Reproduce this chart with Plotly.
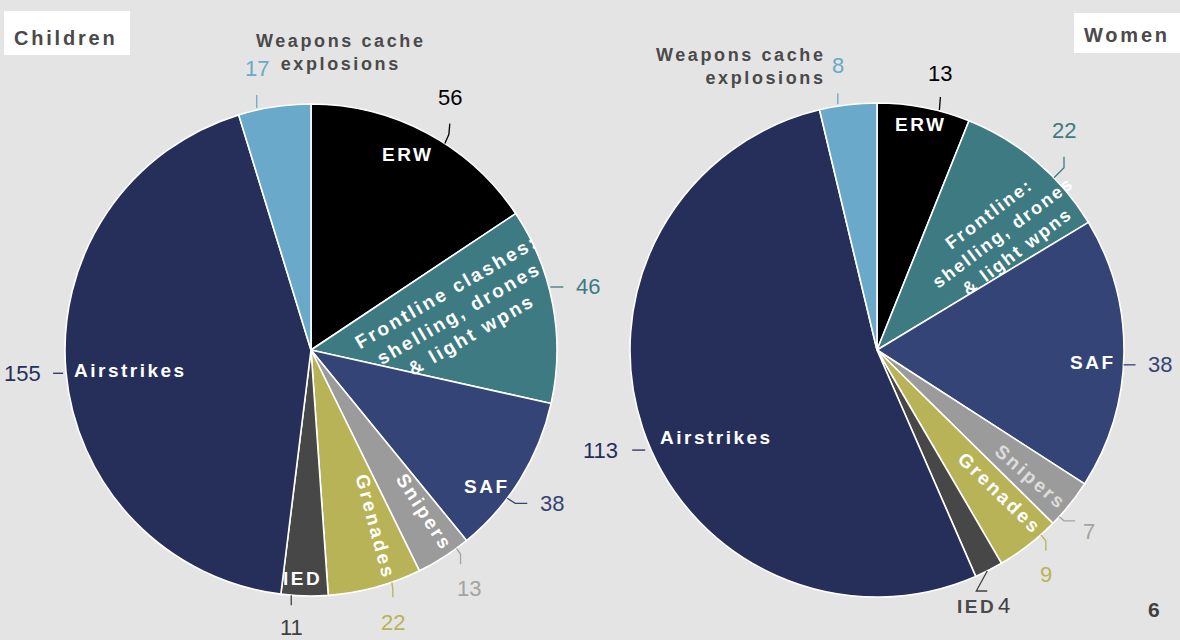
import math
import plotly.graph_objects as go

W, H = 1180, 640

# ---------------- data ----------------
categories = ["ERW", "Frontline clashes: shelling, drones & light wpns", "SAF", "Snipers",
              "Grenades", "IED", "Airstrikes", "Weapons cache explosions"]
children = [56, 46, 38, 13, 22, 11, 155, 17]
women = [13, 22, 38, 7, 9, 4, 113, 8]

children_inside = ["ERW", "Frontline clashes:<br>shelling, drones<br>& light wpns", "SAF", "Snipers",
                   "Grenades", "IED", "Airstrikes", None]
women_inside = ["ERW", "Frontline:<br>shelling, drones<br>& light wpns", "SAF", "Snipers",
                "Grenades", None, "Airstrikes", None]
weapons_title = "Weapons cache<br>explosions"

# ---------------- styles ----------------
slice_colors = ["#000000", "#3e7a81", "#344476", "#9b9b9b", "#b8b357", "#474747", "#262f5a", "#6aa9c9"]
value_colors = ["#000000", "#3e7a81", "#344476", "#a3a3a3", "#b8b357", "#404040", "#262f5a", "#6aa9c9"]
BG = "#e4e4e4"
TITLE_COL = "#4a4a4a"
BOLD = "Liberation Sans, Arial, sans-serif"

def spaced(txt, px):
    return "<br>".join(f"<span style='letter-spacing:{px}px'>{ln}</span>" for ln in txt.split("<br>"))

def to_paper(x, y):
    return x / W, 1 - y / H

def polar(cx, cy, r, theta):
    t = math.radians(theta)
    return cx + r * math.sin(t), cy - r * math.cos(t)

def mid_angles(vals):
    tot = sum(vals)
    out, c = [], 0
    for v in vals:
        out.append((c + v / 2) / tot * 360)
        c += v
    return out

# layout of each pie (pixel geometry) and label placement:
# inside: (angle offset from slice middle, radius fraction, text angle, colour, font size)
pies = [
    dict(vals=children, inside=children_inside, cx=311, cy=350, R=246,
         ins=[(-1.8, 0.885, 0, "white", 19), (-3.5, 0.62, -30, "white", 19), (6.2, 0.907, 0, "white", 19),
              (-2.4, 0.805, 57, "white", 19), (-4.8, 0.765, 75, "white", 19), (0.5, 0.93, 0, "white", 19),
              (-1.3, 0.74, 0, "white", 19), None],
         val=[(4.8, [(0, 0), (4, -9), (5, -20)], (5, -46)),
              (-3.8, [(1, -2), (14, -2)], (39, -2)),
              (5.4, [(0, 0), (8, 5), (20, 5)], (45, 5)),
              (-3.6, [(0, 0), (4, 6), (4, 16)], (12, 40)),
              (-4.1, [(0, 0), (1, 7), (1, 15)], (1, 40)),
              (3.1, [(0, 0), (0, 10)], (0, 32)),
              (-0.4, [(-3, 0), (-13, 0)], (-44, 0)),
              (-4.2, [(0, -2), (0, -15)], (0, -42))],
         wtitle=((84, -58), "center", "center"),
         ied_out=None),
    dict(vals=women, inside=women_inside, cx=877, cy=350, R=247,
         ins=[(-0.1, 0.93, 0, "white", 19), (6.6, 0.70, -37, "white", 18), (2.6, 0.875, 0, "white", 19),
              (1.0, 0.805, 41, "#dcdcdc", 19), (-2.85, 0.765, 44, "white", 19), None,
              (-10.0, 0.74, 0, "white", 19), None],
         val=[(3.7, [(0, -1), (1, -14)], (1, -38)),
              (5.4, [(0, 0), (10, -10), (10, -21)], (10, -47)),
              (2.6, [(0, 0), (12, 0)], (36, 0)),
              (3.8, [(0, 0), (5, 4), (16, 4)], (30, 15)),
              (-3.7, [(0, 0), (5, 6), (5, 16)], (5, 40)),
              (0.4, [(0, 0), (-11, 20), (0, 20)], (17, 34)),
              (-5.4, [(-6, 0), (-19, 0)], (-51, 0)),
              (-2.4, [(0, -2), (0, -13)], (0, -41))],
         wtitle=((-10, -40), "right", "right"),
         ied_out=(-11, 35)),
]

fig = go.Figure()
annotations, shapes = [], []

for p in pies:
    cx, cy, R = p["cx"], p["cy"], p["R"]
    x0, y1 = to_paper(cx - R, cy - R)
    x1, y0 = to_paper(cx + R, cy + R)
    fig.add_trace(go.Pie(
        labels=categories, values=p["vals"], sort=False, direction="clockwise", rotation=0,
        marker=dict(colors=slice_colors, line=dict(color="white", width=1.6)),
        textinfo="none", hoverinfo="label+value", showlegend=False,
        domain=dict(x=[x0, x1], y=[y0, y1]),
    ))
    mids = mid_angles(p["vals"])
    for i, v in enumerate(p["vals"]):
        # inside label
        spec = p["ins"][i]
        if spec is not None and p["inside"][i]:
            d, rf, ang, col, fs = spec
            lx, ly = polar(cx, cy, rf * R, mids[i] + d)
            ax, ay = to_paper(lx, ly)
            annotations.append(dict(x=ax, y=ay, xref="paper", yref="paper", showarrow=False,
                                    text=spaced(p["inside"][i], 2.5 if fs >= 19 else 2.1),
                                    textangle=ang, xanchor="center", yanchor="middle",
                                    font=dict(family=BOLD, size=fs, color=col, weight="bold")))
        # value label + leader
        d, pts, (tx, ty) = p["val"][i]
        axp, ayp = polar(cx, cy, R, mids[i] + d)
        path = ""
        for k, (dx, dy) in enumerate(pts):
            px_, py_ = to_paper(axp + dx, ayp + dy)
            path += ("M" if k == 0 else " L") + f" {px_:.5f} {py_:.5f}"
        shapes.append(dict(type="path", path=path, xref="paper", yref="paper",
                           line=dict(color=value_colors[i], width=1.3)))
        vx, vy = to_paper(axp + tx, ayp + ty)
        annotations.append(dict(x=vx, y=vy, xref="paper", yref="paper", showarrow=False,
                                text=str(v), xanchor="center", yanchor="middle",
                                font=dict(family=BOLD, size=22, color=value_colors[i])))
        if i == 7:
            (ox, oy), xa, al = p["wtitle"]
            wx, wy = to_paper(axp + ox, ayp + oy)
            annotations.append(dict(x=wx, y=wy, xref="paper", yref="paper", showarrow=False,
                                    text=spaced(weapons_title, 2.6), xanchor=xa, yanchor="middle",
                                    align=al,
                                    font=dict(family=BOLD, size=18, color=TITLE_COL, weight="bold")))
        if i == 5 and p["ied_out"] is not None:
            ox, oy = p["ied_out"]
            wx, wy = to_paper(axp + ox, ayp + oy)
            annotations.append(dict(x=wx, y=wy, xref="paper", yref="paper", showarrow=False,
                                    text=spaced("IED", 2.5), xanchor="center", yanchor="middle",
                                    font=dict(family=BOLD, size=19, color="#4a4a4a", weight="bold")))

# panel titles in white boxes
for (bx0, by0, bx1, by1), txt, (tx, ty) in [((4, 11, 130, 55), "Children", (66, 38)),
                                            ((1074, 13, 1180, 53), "Women", (1127, 35))]:
    a0, b1 = to_paper(bx0, by0)
    a1, b0 = to_paper(bx1, by1)
    shapes.append(dict(type="rect", xref="paper", yref="paper", x0=a0, x1=a1, y0=b0, y1=b1,
                       fillcolor="white", line=dict(width=0), layer="below"))
    px_, py_ = to_paper(tx, ty)
    annotations.append(dict(x=px_, y=py_, xref="paper", yref="paper", showarrow=False,
                            text=spaced(txt, 2.8), xanchor="center", yanchor="middle",
                            font=dict(family=BOLD, size=20, color=TITLE_COL, weight="bold")))

# page number
px_, py_ = to_paper(1154, 609)
annotations.append(dict(x=px_, y=py_, xref="paper", yref="paper", showarrow=False, text="6",
                        xanchor="center", yanchor="middle",
                        font=dict(family=BOLD, size=21, color="#404040", weight="bold")))

fig.update_layout(
    width=W, height=H, margin=dict(l=0, r=0, t=0, b=0),
    paper_bgcolor=BG, plot_bgcolor=BG,
    annotations=annotations, shapes=shapes, showlegend=False,
)

fig.write_html("out.html", config={"displayModeBar": False},
               post_script="document.body.style.margin='0';document.body.style.overflow='hidden';")
